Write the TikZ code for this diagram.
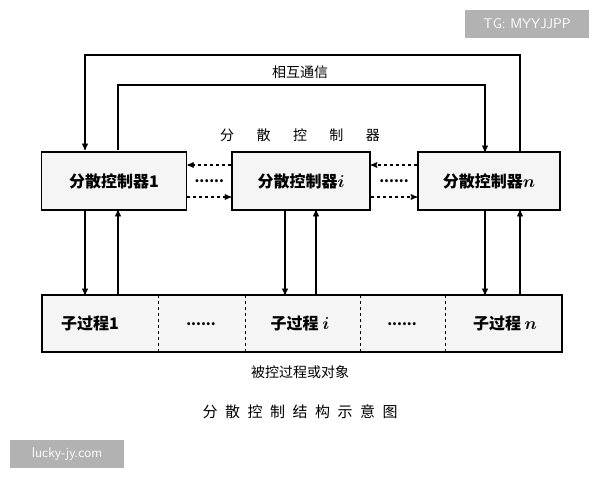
\documentclass[tikz,border=0pt]{standalone}
\usepackage{amsmath,amssymb,bm}
\usepackage{fontspec}
\newfontfamily\cjk{Noto Sans CJK SC}
\usetikzlibrary{arrows,positioning,calc}
\begin{document}
\begin{tikzpicture}[x=1pt,y=-1pt,>=stealth',line width=1.3pt,font=\cjk\fontsize{14}{16}\selectfont]
  \tikzstyle{ctrl}=[draw,line width=1.8pt,fill=gray!8,minimum width=145pt,minimum height=58pt,font=\cjk\bfseries\fontsize{16}{18}\selectfont]
  \tikzstyle{proc}=[font=\cjk\bfseries\fontsize{16}{18}\selectfont]
  \tikzstyle{link}=[->,dashed]
  \useasboundingbox (0,0) rectangle (600,480);

  \node[ctrl] (C1) at (114,181) {分散控制器1};
  \node[ctrl,minimum width=138pt] (Ci) at (301,181) {分散控制器$\bm{i}$};
  \node[ctrl,minimum width=142pt] (Cn) at (489,181) {分散控制器$\bm{n}$};

  \draw[line width=1.8pt,fill=gray!8] (42,295) rectangle (562,352);
  \foreach \x in {158,245,360,445}
    \draw[thick,dashed] (\x,295) -- (\x,352);
  \node[proc] (P1) at (90,324) {子过程1};
  \node[proc] (Pi) at (300,324) {子过程 $\bm{i}$};
  \node[proc] (Pn) at (505,324) {子过程 $\bm{n}$};
  \node at (201,324) {\textbf{......}};
  \node at (402,324) {\textbf{......}};

  % communication
  \draw[->] (520,152) -- (520,55) -- (85,55) -- (85,150);
  \draw[->] (118,150) -- (118,85) -- (485,85) -- (485,152);
  \node at (300,72) {相互通信};
  \node at (300,135) {分\hspace{1.6em}散\hspace{1.6em}控\hspace{1.6em}制\hspace{1.6em}器};

  \foreach \a/\b in {C1/Ci,Ci/Cn}{
    \draw[link] (\b.west|-0,165) -- (\a.east|-0,165);
    \draw[link] (\a.east|-0,197) -- (\b.west|-0,197);
    \node at ($(\a.east)!0.5!(\b.west)$) {\textbf{......}};
  }

  \foreach \d/\u in {85/118,285/316,485/520}{
    \draw[->] (\d,210) -- (\d,295);
    \draw[->] (\u,295) -- (\u,210);
  }

  \node at (300,372) {被控过程或对象};
  \node[font=\cjk\fontsize{15}{17}\selectfont] at (300,412) {分\hspace{0.5em}散\hspace{0.5em}控\hspace{0.5em}制\hspace{0.5em}结\hspace{0.5em}构\hspace{0.5em}示\hspace{0.5em}意\hspace{0.5em}图};

  \node[fill=gray!60,text=white,font=\sffamily\fontsize{14}{16}\selectfont,minimum width=124pt,minimum height=28pt] (tg) at (527,24) {TG: MYYJJPP};
  \node[fill=gray!60,text=white,font=\sffamily\fontsize{14}{16}\selectfont,minimum width=114pt,minimum height=28pt] (lj) at (67,454) {lucky-jy.com};
\end{tikzpicture}
\end{document}
